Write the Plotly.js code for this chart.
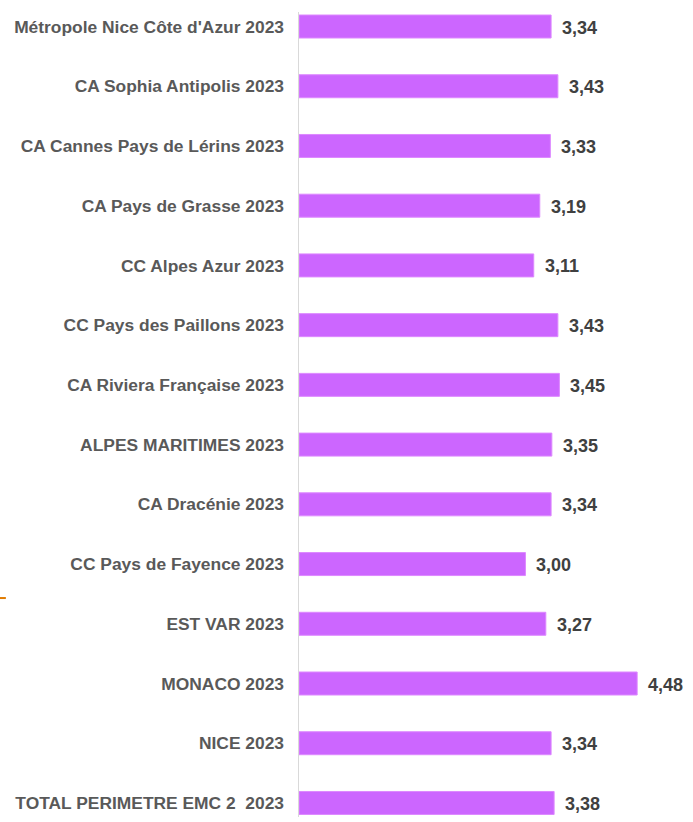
<!DOCTYPE html>
<html><head><meta charset="utf-8">
<script src="https://cdn.plot.ly/plotly-3.0.1.min.js"></script>
<style>html,body{margin:0;padding:0;background:#fff}</style>
</head><body>
<div id="chart" style="width:693px;height:822px"></div>
<script>
const categories = [
  "Métropole Nice Côte d'Azur 2023",
  "CA Sophia Antipolis 2023",
  "CA Cannes Pays de Lérins 2023",
  "CA Pays de Grasse 2023",
  "CC Alpes Azur 2023",
  "CC Pays des Paillons 2023",
  "CA Riviera Française 2023",
  "ALPES MARITIMES 2023",
  "CA Dracénie 2023",
  "CC Pays de Fayence 2023",
  "EST VAR 2023",
  "MONACO 2023",
  "NICE 2023",
  "TOTAL PERIMETRE EMC 2  2023"
];
const values = [3.34, 3.43, 3.33, 3.19, 3.11, 3.43, 3.45, 3.35, 3.34, 3.00, 3.27, 4.48, 3.34, 3.38];

const trace = {
  type: 'bar', orientation: 'h',
  x: values, y: categories,
  width: 0.385,
  marker: {color: '#CC66FF', line: {color: '#DD88FF', width: 1}},
  hoverinfo: 'skip'
};

const annotations = values.map((v, i) => ({
  x: v, y: categories[i], xref: 'x', yref: 'y',
  text: v.toFixed(2).replace('.', ','),
  showarrow: false, xanchor: 'left', yanchor: 'middle', xshift: 9, yshift: -1,
  font: {family: 'Liberation Sans, Arial, sans-serif', size: 18, color: '#404040', weight: 'bold'}
}));

const layout = {
  width: 693, height: 822,
  margin: {l: 299, r: 0, t: 12, b: 5},
  paper_bgcolor: '#fff', plot_bgcolor: '#fff',
  showlegend: false,
  xaxis: {range: [0, 5.22], visible: false, fixedrange: true},
  yaxis: {
    type: 'category', range: [13.235, -0.243],
    showline: true, linecolor: '#d9d9d9', linewidth: 1.5,
    showgrid: false, zeroline: false,
    ticks: '', ticklabelstandoff: 10,
    tickfont: {family: 'Liberation Sans, Arial, sans-serif', size: 17.4, color: '#595959', weight: 'bold'}
  },
  annotations: annotations,
  shapes: [{type: 'line', xref: 'paper', yref: 'paper', x0: -0.759, x1: -0.744, y0: 0.272, y1: 0.272,
            line: {color: '#E07B00', width: 2}}]
};

Plotly.newPlot('chart', [trace], layout, {displayModeBar: false, staticPlot: true});
</script>
</body></html>
